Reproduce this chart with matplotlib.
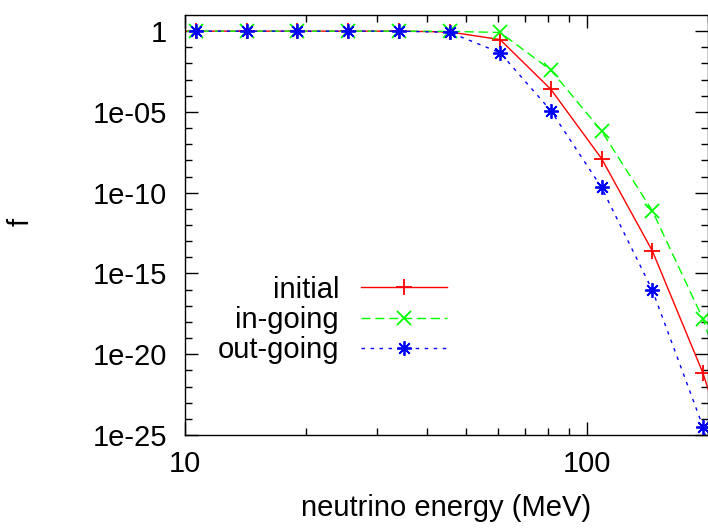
import numpy as np
import matplotlib
matplotlib.use("Agg")
import matplotlib.pyplot as plt
from matplotlib.ticker import FixedLocator, FuncFormatter, NullFormatter

# ---- data ----
energy = [7.97, 10.65, 14.24, 19.04, 25.46, 34.04, 45.5, 60.8, 81.3, 108.7, 145.4, 194.4, 260.0]
f_initial = [1, 1, 1, 1, 1, 1, 0.9, 0.30, 2.5e-4, 1.3e-8, 2.5e-14, 6.6e-22, 1e-31]
f_ingoing = [1, 1, 1, 1, 1, 1, 0.97, 0.83, 3.9e-3, 6.6e-7, 7.6e-12, 1.5e-18, 1e-27]
f_outgoing = [1, 1, 1, 1, 1, 1, 0.85, 0.046, 1.2e-5, 2.1e-10, 9.3e-17, 3.2e-25, 1e-36]
labels = ["initial", "in-going", "out-going"]
y_major = [1e-25, 1e-20, 1e-15, 1e-10, 1e-5, 1]
y_major_labels = ["1e-25", "1e-20", "1e-15", "1e-10", "1e-05", "1"]
x_major = [10, 100]

plt.rcParams['font.family'] = ['Liberation Sans', 'DejaVu Sans']
FS = 21

fig = plt.figure(figsize=(7.08, 5.28), dpi=100)
ax = fig.add_axes([185/708, 1-435/528, (708-185)/708, (435-15)/528])

ax.plot(energy, f_initial, color='#ff0000', lw=1.0, ls='-', marker='+', ms=11, mew=1.3,
        label=labels[0])
ax.plot(energy, f_ingoing, color='#00ff00', lw=1.0, ls=(0, (6.5, 3.5)), marker='x', ms=9.5, mew=1.3,
        label=labels[1])
ax.plot(energy, f_outgoing, color='#0000ff', lw=1.0, ls=(0, (2.5, 4)), marker=(8, 2, 0), ms=10.5, mew=1.3,
        label=labels[2])

ax.set_xscale('log')
ax.set_yscale('log')
ax.set_xlim(10, 200)
ax.set_ylim(1e-25, 10)

ax.xaxis.set_major_locator(FixedLocator(x_major))
ax.xaxis.set_major_formatter(FuncFormatter(lambda v, p: f"{int(round(v))}"))
ax.xaxis.set_minor_locator(FixedLocator([20, 30, 40, 50, 60, 70, 80, 90, 200]))
ax.xaxis.set_minor_formatter(NullFormatter())

ax.yaxis.set_major_locator(FixedLocator(y_major))
ax.set_yticklabels(y_major_labels)
ax.yaxis.set_minor_locator(FixedLocator([10.0**k for k in range(-25, 1) if k % 5 != 0]))
ax.yaxis.set_minor_formatter(NullFormatter())

ax.tick_params(which='both', direction='in', top=True, right=True, width=1.0, labelsize=FS)
ax.tick_params(which='major', length=9.5)
ax.tick_params(which='minor', length=5)
ax.tick_params(axis='x', which='major', pad=11)
ax.tick_params(axis='y', which='major', pad=13)
for s in ax.spines.values():
    s.set_linewidth(1.0)

ax.set_xlabel("neutrino energy (MeV)", fontsize=FS, labelpad=11)
fig.text(21/708, 1-222/528, "f", rotation=90, fontsize=FS, ha='center', va='center')

leg = ax.legend(loc='center right', bbox_to_anchor=(447/708, 1-320/528),
                bbox_transform=fig.transFigure, frameon=False, fontsize=FS,
                markerfirst=False, handlelength=2.95, handletextpad=0.75,
                labelspacing=0.08, borderpad=0, borderaxespad=0)
for t in leg.get_texts():
    t.set_ha('right')
leg._legend_box.align = "right"

fig.savefig("out.png", dpi=100)
